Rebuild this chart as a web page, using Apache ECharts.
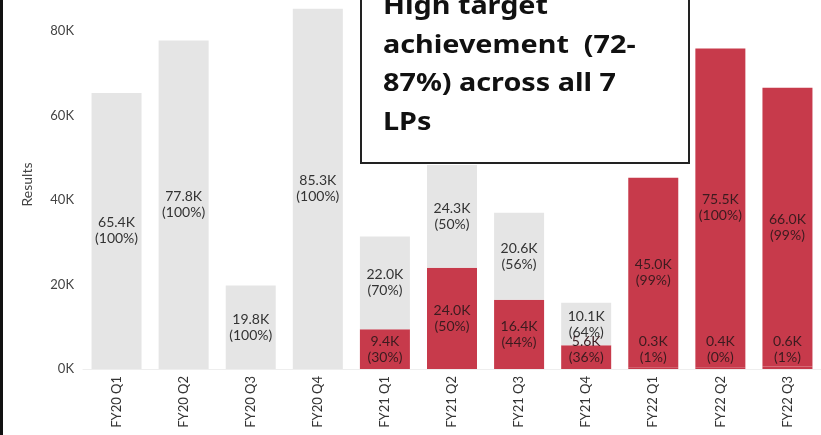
<!DOCTYPE html>
<html>
<head>
<meta charset="utf-8">
<script src="https://cdn.jsdelivr.net/npm/echarts@6/dist/echarts.min.js"></script>
<style>
  html, body { margin: 0; padding: 0; background: #fff; }
  #chart { width: 821px; height: 435px; }
</style>
</head>
<body>
<div id="chart"></div>
<script>
const categories = ['FY20 Q1', 'FY20 Q2', 'FY20 Q3', 'FY20 Q4', 'FY21 Q1', 'FY21 Q2', 'FY21 Q3', 'FY21 Q4', 'FY22 Q1', 'FY22 Q2', 'FY22 Q3']

// values in thousands
const baseValues = [null, null, null, null, 9.4, 24.0, 16.4, 5.6, 0.3, 0.4, 0.6]
const basePct = [null, null, null, null, 30, 50, 44, 36, 1, 0, 1]
const greyValues = [65.4, 77.8, 19.8, 85.3, 22.0, 24.3, 20.6, 10.1, null, null, null]
const greyPct = [100, 100, 100, 100, 70, 50, 56, 64, null, null, null]
const topValues = [null, null, null, null, null, null, null, null, 45.0, 75.5, 66.0]
const topPct = [null, null, null, null, null, null, null, null, 99, 100, 99]

const yMax = 87.4
const yInterval = 20
const boxLines = ['High target', 'achievement  (72-', '87%) across all 7', 'LPs']

const red = '#c73a4b'
const grey = '#e5e5e5'
const labelFont = 'Lato'

const makeLabel = (pcts, color) => ({
  show: true,
  position: 'inside',
  color: color,
  fontFamily: labelFont,
  fontSize: 14,
  lineHeight: 16,
  formatter: p => p.value.toFixed(1) + 'K\n(' + pcts[p.dataIndex] + '%)'
})

const chart = echarts.init(document.getElementById('chart'))

const seriesDef = (name, values, pcts, color, textColor) => ({
  name: name,
  type: 'bar',
  stack: 'total',
  barWidth: 50,
  data: values,
  itemStyle: { color: color },
  label: makeLabel(pcts, textColor),
  animation: false
})

chart.setOption({
  animation: false,
  grid: { left: 83, right: -4.5, top: 0, bottom: 66 },
  xAxis: {
    type: 'category',
    data: categories,
    axisLine: { lineStyle: { color: '#eeeeee', width: 1 } },
    axisTick: { show: false },
    axisLabel: { rotate: 90, color: '#333', fontFamily: labelFont, fontSize: 13, margin: 7 }
  },
  yAxis: {
    type: 'value',
    min: 0,
    max: yMax,
    interval: yInterval,
    name: 'Results',
    nameLocation: 'middle',
    nameGap: 49,
    nameTextStyle: { color: '#444', fontFamily: labelFont, fontSize: 14 },
    axisLine: { show: false },
    axisTick: { show: false },
    splitLine: { show: false },
    axisLabel: {
      color: '#444', fontFamily: labelFont, fontSize: 13, margin: 9,
      showMaxLabel: false,
      formatter: '{value}K'
    }
  },
  series: [
    seriesDef('base', baseValues, basePct, red, '#3b1b1f'),
    seriesDef('grey', greyValues, greyPct, grey, '#333'),
    seriesDef('top', topValues, topPct, red, '#3b1b1f')
  ],
  graphic: [
    { type: 'rect', left: 0, top: 0, shape: { x: 0, y: 0, width: 3, height: 435 }, style: { fill: '#111' } },
    {
      type: 'group', x: 361, y: -10,
      children: [
        { type: 'rect', shape: { x: 0, y: 0, width: 328, height: 173 }, style: { fill: '#fff', stroke: '#222', lineWidth: 2 } },
        {
          type: 'text', x: 22, y: -2, scaleX: 1.15,
          style: {
            text: boxLines.join('\n'),
            font: 'bold 25px "Noto Sans"',
            lineHeight: 38.5,
            fill: '#111',
            verticalAlign: 'top'
          }
        }
      ]
    }
  ]
})

// keep small bottom labels inside the bar, like the original
const zeroPx = chart.convertToPixel({ yAxisIndex: 0 }, 0)
const halfLabel = 20
chart.setOption({
  series: [{
    name: 'base',
    data: baseValues.map(v => {
      if (v == null) return null
      const h = zeroPx - chart.convertToPixel({ yAxisIndex: 0 }, v)
      const shift = Math.max(0, halfLabel - h / 2)
      return { value: v, label: { offset: [0, -shift] } }
    })
  }]
})
</script>
</body>
</html>
